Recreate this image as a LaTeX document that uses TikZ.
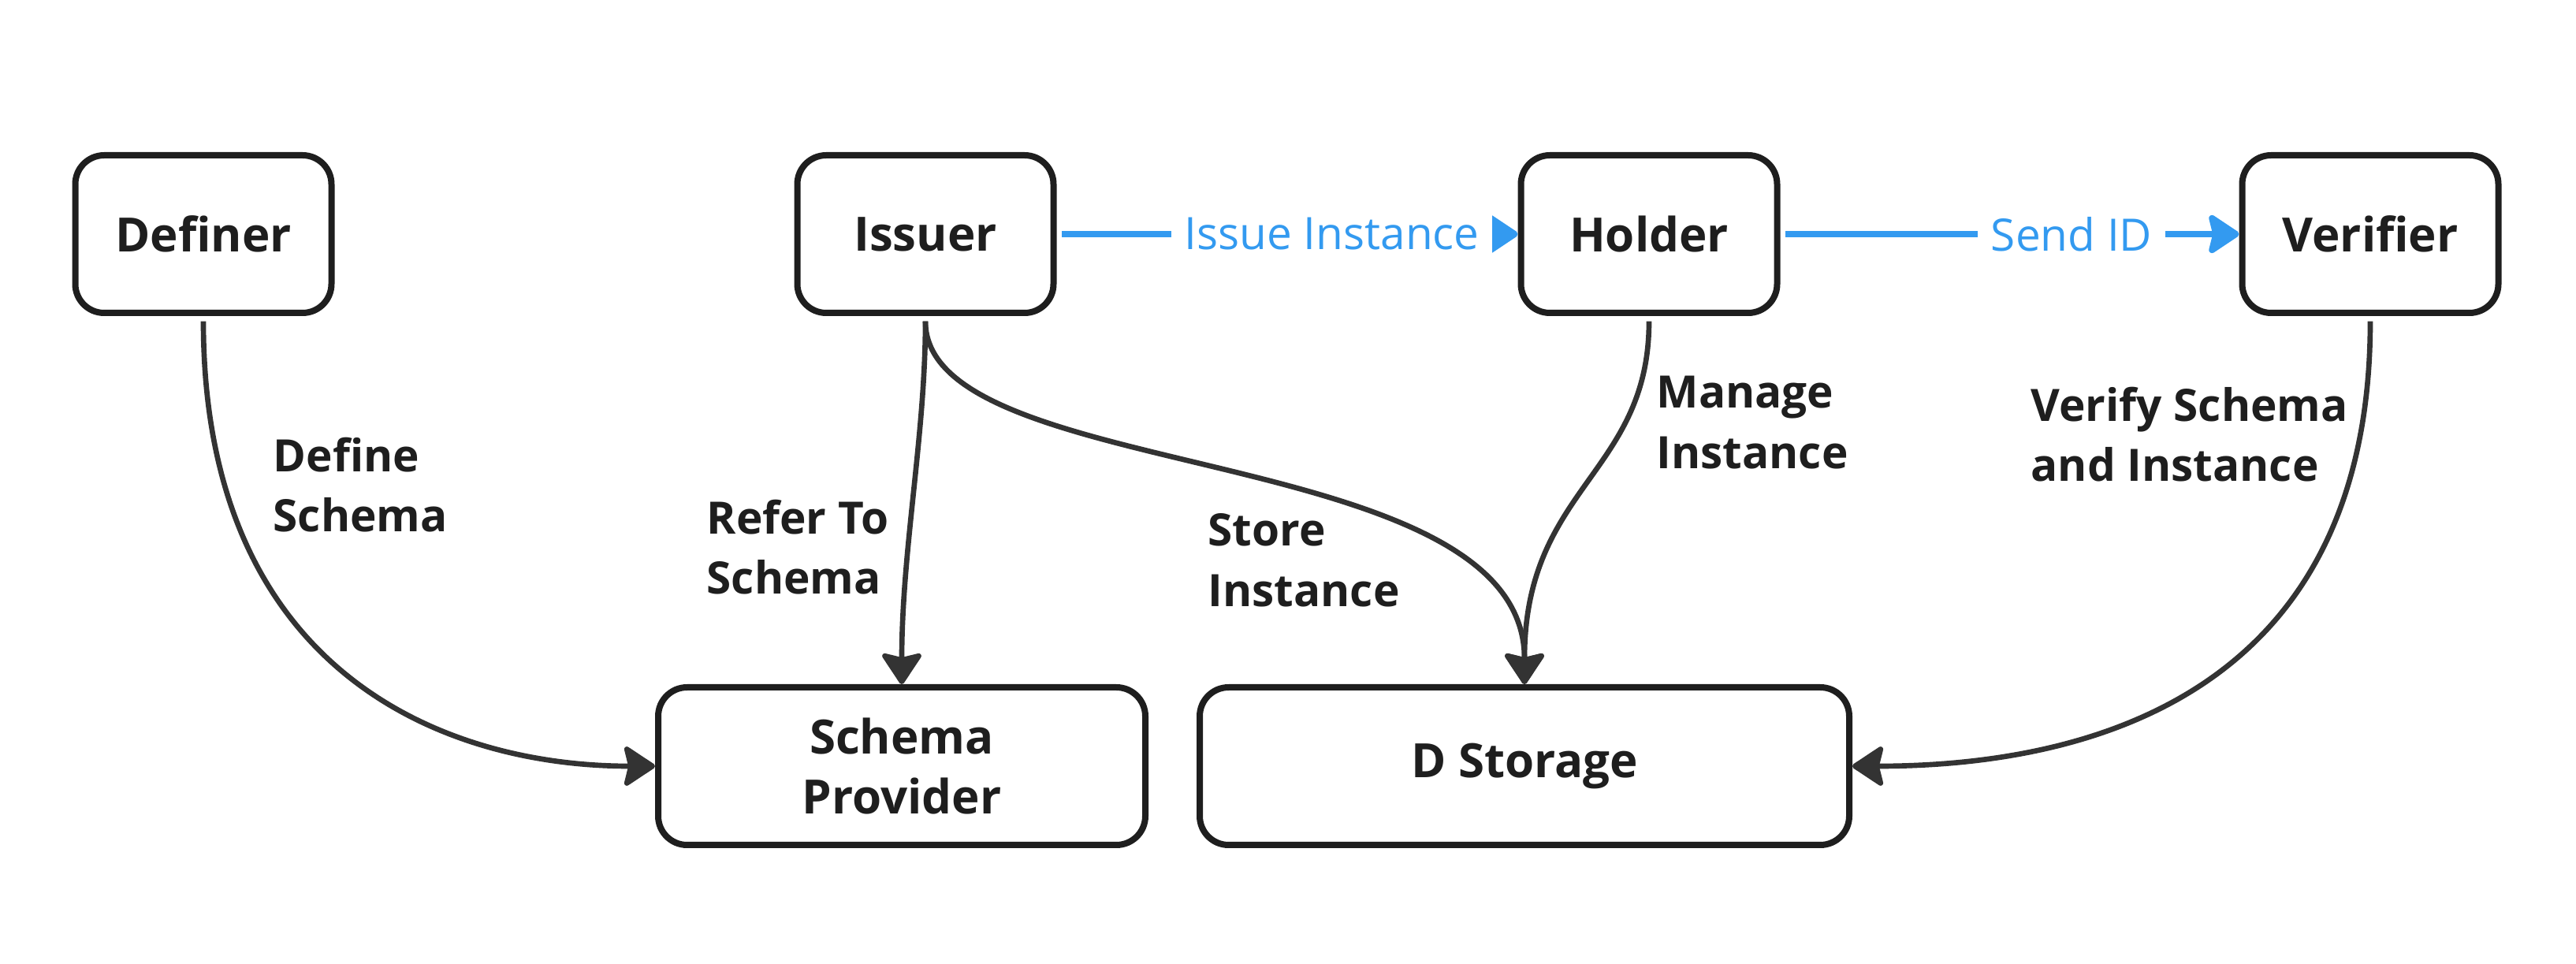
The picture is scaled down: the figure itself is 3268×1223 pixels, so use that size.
\documentclass[tikz,border=0pt]{standalone}
\usepackage{fontspec}
\setmainfont{Open Sans}
\usetikzlibrary{arrows.meta}
\definecolor{ink}{RGB}{30,30,30}
\definecolor{wire}{RGB}{51,51,51}
\definecolor{sky}{RGB}{51,154,240}
\tikzset{
    actor/.style={draw=ink, line width=2.4pt, rounded corners=11pt, minimum width=#1, minimum height=60pt,
        align=center, text=ink, font=\fontsize{18}{23}\selectfont\bfseries},
    actor/.default=97.5pt,
    flow/.style={draw=wire, line width=2pt, shorten <=2pt, -{Stealth[length=13pt,width=17pt,inset=2pt,round]}},
    send/.style={draw=sky, line width=2.4pt, shorten <=2pt, -{Stealth[length=13pt,width=17pt,inset=2pt,round]}},
    sendlbl/.style={fill=white, text=sky, inner xsep=5pt, font=\fontsize{17}{23}\selectfont},
    note/.style={anchor=west, align=left, inner sep=0pt, text=ink, font=\fontsize{17}{23}\selectfont\bfseries},
}
\begin{document}
\begin{tikzpicture}[x=0.3pt,y=0.3pt,yscale=-1,xscale=1]
    \useasboundingbox (0,0) rectangle (3268,1223);

    % Text Node
    \node [actor] (definer) at (258,297) {Definer};
    % Text Node
    \node [actor] (issuer) at (1174,297) {Issuer};
    % Text Node
    \node [actor] (holder) at (2092,297) {Holder};
    % Text Node
    \node [actor] (verifier) at (3007,297) {Verifier};
    % Text Node
    \node [actor=185.4pt] (provider) at (1144,972) {Schema\\Provider};
    % Text Node
    \node [actor=247.2pt] (storage) at (1934,972) {D Storage};

    %Straight Lines
    \draw [send] (issuer) -- node [sendlbl, pos=0.597] {Issue Instance} (holder);
    %Straight Lines
    \draw [send] (holder) -- node [sendlbl, pos=0.635] {Send ID} (verifier);

    %Curve Lines
    \draw [flow] (definer.south) .. controls +(0,450) and +(-270,0) .. (provider.west);
    %Curve Lines
    \draw [flow] (issuer.south) .. controls +(0,150) and +(0,-170) .. (provider.north);
    %Curve Lines
    \draw [flow] (issuer.south) .. controls +(0,215) and +(0,-310) .. (storage.north);
    %Curve Lines
    \draw [flow] (holder.south) .. controls +(0,200) and +(0,-250) .. (storage.north);
    %Curve Lines
    \draw [flow] (verifier.south) .. controls +(0,480) and +(300,0) .. (storage.east);

    % Text Node
    \node [note] (defnote) at (346,615) {Define\\Schema};
    % Text Node
    \node [note] (refnote) at (896,694) {Refer To\\Schema};
    % Text Node
    \node [note] (storenote) at (1532,711) {Store\\Instance};
    % Text Node
    \node [note] (managenote) at (2101,536) {Manage\\Instance};
    % Text Node
    \node [note] (verifynote) at (2576,551) {Verify Schema\\and Instance};

\end{tikzpicture}
\end{document}
